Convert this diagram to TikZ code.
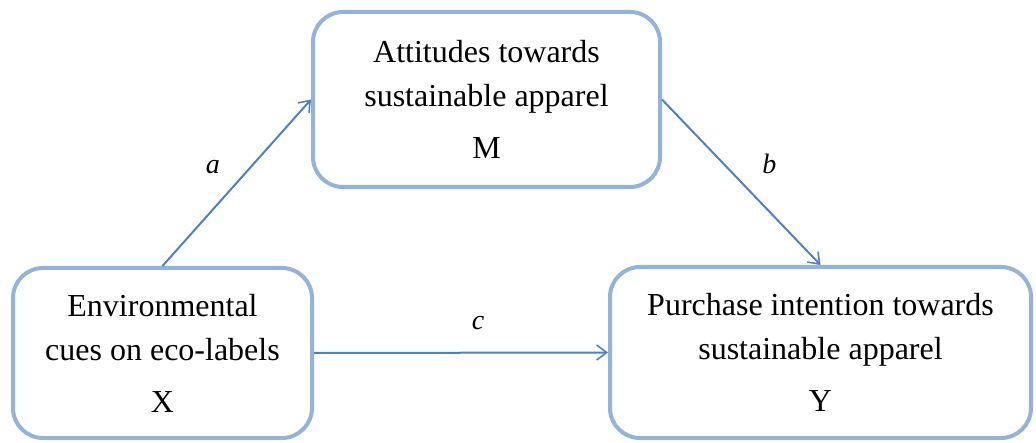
\documentclass[tikz,border=0pt]{standalone}
\usepackage{fontspec}
\setmainfont{Liberation Serif}
\usetikzlibrary{arrows.meta}
\definecolor{boxline}{HTML}{95B3D7}
\definecolor{arrowline}{HTML}{4F81BD}
\begin{document}
\begin{tikzpicture}[x=1pt,y=-1pt,
  varbox/.style={draw=boxline, line width=4pt, rounded corners=30pt, fill=white,
    align=center, inner sep=0pt, font=\fontsize{32}{44}\selectfont},
  path/.style={draw=arrowline, line width=2pt,
    -{Straight Barb[length=10pt,width=15pt,line width=1.6pt]}},
  coef/.style={font=\fontsize{28}{30}\selectfont\itshape, inner sep=0pt}]
  \useasboundingbox (0,0) rectangle (1036,443);

  % mediator, predictor and outcome
  \node[varbox, minimum width=347pt, minimum height=175pt] (M) at (486.5,99.5)
    {Attitudes towards\\ sustainable apparel\\[8pt] M};
  \node[varbox, minimum width=299pt, minimum height=170pt] (X) at (162.5,353)
    {Environmental\\ cues on eco-labels\\[8pt] X};
  \node[varbox, minimum width=421pt, minimum height=171pt] (Y) at (820.5,352.5)
    {Purchase intention towards\\ sustainable apparel\\[8pt] Y};

  % paths a, b and c
  \draw[path] (X.north) -- node[coef, xshift=-24pt, yshift=16pt] {a} (M.west);
  \draw[path] (M.east) -- node[coef, xshift=28pt, yshift=18pt] {b} (Y.north);
  \draw[path] (X.east) -- node[coef, xshift=17pt, yshift=30pt] {c} (Y.west);
\end{tikzpicture}
\end{document}
